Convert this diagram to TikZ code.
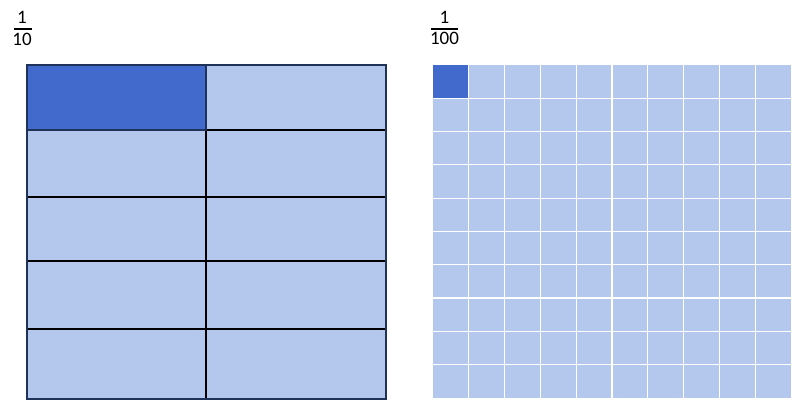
\documentclass[tikz,border=0pt]{standalone}
\usepackage{fontspec}
\setmainfont{Carlito}
\usetikzlibrary{positioning}

\definecolor{tenthdark}{RGB}{66,106,204}
\definecolor{tenthlight}{RGB}{180,199,236}
\definecolor{gridnavy}{RGB}{31,50,90}

\begin{document}
\begin{tikzpicture}[
    x=1pt, y=-1pt,
    num/.style={inner sep=0pt, font=\fontsize{19}{19}\selectfont},
    bar/.style={line width=1.5pt, black},
    tenthline/.style={line width=1.4pt, black},
    tenthframe/.style={line width=1.4pt, gridnavy},
    hundline/.style={line width=1.2pt, white}
  ]
    \useasboundingbox (0,0) rectangle (805,419);

    % fraction labels
    \node[num] (n1) at (22,17) {1};
    \node[num] (d1) at (22,39) {10};
    \draw[bar] (14,29) -- (32,29);
    \node[num] (n2) at (444.5,17) {1};
    \node[num] (d2) at (444.5,38.5) {100};
    \draw[bar] (431,29) -- (458,29);

    % tenths: 2 x 5
    \fill[tenthlight] (27,65) rectangle (386,399);
    \fill[tenthdark] (27,65) rectangle (206,130);
    \draw[tenthline] (206,65) -- (206,399);
    \foreach \r in {130,197,261,329}
      \draw[tenthline] (26,\r) -- (385,\r);
    \draw[tenthframe] (27,65) rectangle (206,130);
    \draw[tenthframe] (27,65) rectangle (386,399);

    % hundredths: 10 x 10
    \fill[tenthlight] (433,65) rectangle (791,398);
    \fill[tenthdark] (433,65) rectangle (468.8,98.3);
    \foreach \i in {1,...,9} {
      \draw[hundline] (433+35.8*\i,65) -- (433+35.8*\i,398);
      \draw[hundline] (433,65+33.3*\i) -- (791,65+33.3*\i);
    }
  \end{tikzpicture}
\end{document}
